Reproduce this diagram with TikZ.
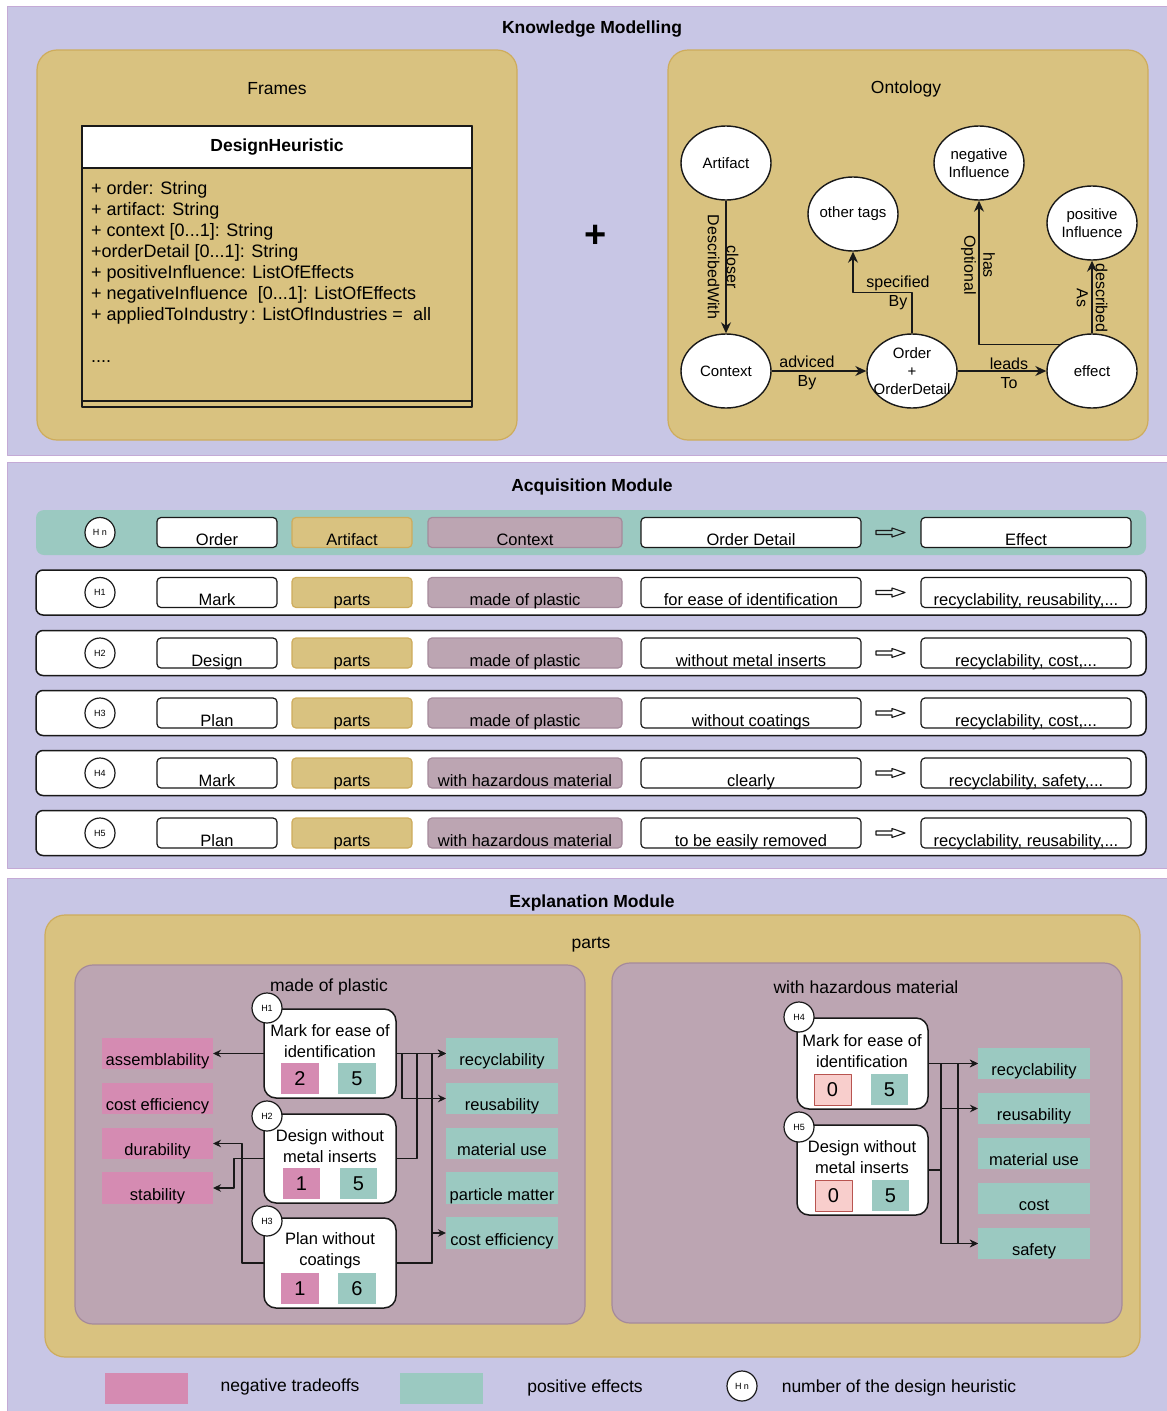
\documentclass[tikz,border=0pt]{standalone}
\usepackage{fontspec}
\setmainfont{Liberation Sans}
\usetikzlibrary{shapes.geometric,arrows.meta,calc}

\definecolor{lav}{RGB}{200,198,229}
\definecolor{lavline}{RGB}{196,170,214}
\definecolor{gold}{RGB}{217,194,128}
\definecolor{goldline}{RGB}{206,172,92}
\definecolor{mauve}{RGB}{188,165,178}
\definecolor{mauveline}{RGB}{165,138,155}
\definecolor{negc}{RGB}{213,139,178}
\definecolor{posc}{RGB}{155,201,193}
\definecolor{zeroc}{RGB}{248,206,204}
\definecolor{zeroline}{RGB}{184,84,80}
\definecolor{ink}{RGB}{25,25,25}

\newcommand\pxfont[2]{\fontsize{#1}{#2}\selectfont}

% rectangle node given by its corners: [style]{name}{x1}{y1}{x2}{y2}{text}
\newcommand\rectnode[7][]{%
  \pgfmathsetmacro\rcx{((#3)+(#5))/2}%
  \pgfmathsetmacro\rcy{((#4)+(#6))/2}%
  \pgfmathsetmacro\rcw{(#5)-(#3)}%
  \pgfmathsetmacro\rch{(#6)-(#4)}%
  \node[inner sep=0pt, outer sep=0pt, minimum width=\rcw pt, minimum height=\rch pt, #1] (#2) at (\rcx,\rcy) {#7};}

% one row of the acquisition table
\newcommand\acqrow[9]{%
  \rectnode[#9]{#1row}{36}{#2-22.5}{1146}{#2+22.5}{}
  \node[badge] (#1b) at (100,#2) {#3};
  \rectnode[cell]{#1o}{157}{#2-15}{277}{#2+15}{#4}
  \rectnode[artcell]{#1a}{292}{#2-15}{412}{#2+15}{#5}
  \rectnode[ctxcell]{#1c}{428}{#2-15}{622}{#2+15}{#6}
  \rectnode[cell]{#1d}{641}{#2-15}{861}{#2+15}{#7}
  \draw[line width=1.1pt, draw=ink] ($(#1d.east)+(15,-2)$) -- ++(16,0) -- ++(0,-2.5)
     -- ++(13,4.5) -- ++(-13,4.5) -- ++(0,-2.5) -- ++(-16,0) -- cycle;
  \rectnode[cell]{#1e}{921}{#2-15}{1131}{#2+15}{#8}
}

\begin{document}
\begin{tikzpicture}[x=1pt,y=-1pt,line join=round,
  panel/.style={draw=lavline, fill=lav, line width=1pt},
  goldbox/.style={draw=goldline, fill=gold, line width=1.2pt, rounded corners=20pt},
  mauvebox/.style={draw=mauveline, fill=mauve, line width=1.2pt, rounded corners=18pt},
  ptitle/.style={font={\pxfont{17.5}{21}\bfseries}, inner sep=0pt},
  ctitle/.style={font={\pxfont{17.5}{21}}, inner sep=0pt},
  ell/.style={ellipse, draw=ink, fill=white, line width=1.4pt, minimum width=90pt,
     minimum height=74pt, inner sep=0pt,
     label={[font={\pxfont{15}{18}}, align=center]center:#1}},
  lbl/.style={font={\pxfont{16}{19}}, align=center, inner sep=0pt},
  arr/.style={draw=ink, line width=1.4pt, -{Stealth[length=11pt,width=10pt]}},
  sarr/.style={draw=ink, line width=1.3pt, -{Stealth[length=8pt,width=7.5pt]}},
  badge/.style={circle, draw=ink, fill=white, line width=1.2pt, minimum size=30pt,
     inner sep=0pt, font={\pxfont{9}{10}}},
  rowbox/.style={draw=ink, fill=white, line width=1.5pt, rounded corners=7pt},
  hdrrow/.style={fill=posc, rounded corners=8pt},
  lowtxt/.style={font={\pxfont{16.5}{19}}, text height=26pt, text depth=0pt},
  cell/.style={draw=ink, fill=white, line width=1.2pt, rounded corners=4pt, lowtxt},
  artcell/.style={draw=goldline, fill=gold, line width=1.2pt, rounded corners=4pt, lowtxt},
  ctxcell/.style={draw=mauveline, fill=mauve, line width=1.2pt, rounded corners=4pt, lowtxt},
  negbox/.style={fill=negc, font={\pxfont{16.5}{19}}, text height=24pt, text depth=0pt},
  posbox/.style={fill=posc, font={\pxfont{16.5}{19}}, text height=24pt, text depth=0pt},
  hbox/.style={draw=ink, fill=white, line width=1.5pt, rounded corners=12pt},
  htxt/.style={font={\pxfont{16.5}{21}}, align=center, inner sep=0pt},
  numn/.style={fill=negc, font={\pxfont{20}{20}}},
  nump/.style={fill=posc, font={\pxfont{20}{20}}},
  numz/.style={fill=zeroc, draw=zeroline, line width=1pt, font={\pxfont{20}{20}}},
  attr/.style={font={\pxfont{18}{21}}, inner sep=0pt, anchor=base west},
  legt/.style={font={\pxfont{17.5}{21}}, inner sep=0pt}
]
\useasboundingbox (0,0) rectangle (1167,1411);
\fill[white] (0,0) rectangle (1167,1411);

% ---------------- Knowledge Modelling ----------------
\rectnode[panel]{kmpanel}{7}{6}{1168}{455}{}
\node[ptitle] (kmtitle) at (592,29) {Knowledge Modelling};

\rectnode[goldbox]{frames}{37}{50}{517}{440}{}
\node[ctitle] (framest) at (277,89) {Frames};
\rectnode[goldbox]{onto}{668}{50}{1148}{440}{}
\node[ctitle] (ontot) at (906,89) {Ontology};
\node[font={\pxfont{38}{38}\bfseries}, inner sep=0pt] (plus) at (596,236) {+};

% class box
\rectnode[draw=ink, fill=gold, line width=1.5pt]{cls}{82}{126}{472}{407}{}
\rectnode[draw=ink, fill=white, line width=1.5pt, font={\pxfont{17.5}{21}\bfseries}]{clsh}{82}{126}{472}{168}{DesignHeuristic}
\draw[draw=ink, line width=1.5pt] ([yshift=6pt]cls.south west) -- ([yshift=6pt]cls.south east);
\node[attr] (at0) at (91,194) {+ order: String};
\node[attr] (at1) at (91,215) {+ artifact: String};
\node[attr] (at2) at (91,236) {+ context [0...1]: String};
\node[attr] (at3) at (91,257) {+orderDetail [0...1]: String};
\node[attr] (at4) at (91,278) {+ positiveInfluence: ListOfEffects};
\node[attr] (at5) at (91,299) {+ negativeInfluence\ \ [0...1]: ListOfEffects};
\node[attr] (at6) at (91,320) {+ appliedToIndustry\,: ListOfIndustries =\ \ all};
\node[attr] (at7) at (91,362) {....};

% ontology graph
\node[ell={Artifact}] (art) at (726,163) {};
\node[ell={Context}] (ctx) at (726,371) {};
\node[ell={other tags}] (oth) at (853,214) {};
\node[ell={negative\\Influence}] (neg) at (979,163) {};
\node[ell={positive\\Influence}] (pos) at (1092,223) {};
\node[ell={Order\\+\\OrderDetail}] (ord) at (912,371) {};
\node[ell={effect}] (eff) at (1092,371) {};

\draw[arr] (art) -- (ctx);
\node[lbl, rotate=-90] (lcl) at (723,267) {closer\\DescribedWith};
\draw[arr] (ctx) -- (ord);
\node[lbl] (lad) at (807,373) {adviced\\By};
\draw[arr] (ord.north) -- ++(0,-41) -| (oth.south);
\node[lbl] (lsp) at (898,293) {specified\\By};
\draw[arr] (ord) -- (eff);
\node[lbl] (lle) at (1009,373) {leads\\To};
\draw[arr] (eff.north west) -| (neg.south);
\node[lbl, rotate=-90] (lha) at (978,265) {has\\Optional};
\draw[arr] (eff.north) -- (pos.south);
\node[lbl, rotate=-90] (lde) at (1092,298) {described\\As};

% ---------------- Acquisition Module ----------------
\rectnode[panel]{acpanel}{7}{462}{1168}{868}{}
\node[ptitle] (actitle) at (592,487) {Acquisition Module};

\acqrow{hd}{532.5}{H n}{Order}{Artifact}{Context}{Order Detail}{Effect}{hdrrow}
\acqrow{ra}{592.5}{H1}{Mark}{parts}{made of plastic}{for ease of identification}{recyclability, reusability,...}{rowbox}
\acqrow{rb}{653}{H2}{Design}{parts}{made of plastic}{without metal inserts}{recyclability, cost,...}{rowbox}
\acqrow{rc}{713}{H3}{Plan}{parts}{made of plastic}{without coatings}{recyclability, cost,...}{rowbox}
\acqrow{rd}{773}{H4}{Mark}{parts}{with hazardous material}{clearly}{recyclability, safety,...}{rowbox}
\acqrow{re}{833}{H5}{Plan}{parts}{with hazardous material}{to be easily removed}{recyclability, reusability,...}{rowbox}

% ---------------- Explanation Module ----------------
\rectnode[panel]{expanel}{7}{878}{1168}{1413}{}
\node[ptitle] (extitle) at (592,903) {Explanation Module};

\rectnode[goldbox]{parts}{45}{915}{1140}{1357}{}
\node[ctitle] (partst) at (591,945) {parts};
\rectnode[mauvebox]{mp}{75}{965}{585}{1324}{}
\node[ctitle] (mpt) at (329,987) {made of plastic};
\rectnode[mauvebox]{hm}{612}{963}{1122}{1323}{}
\node[ctitle] (hmt) at (866,987) {with hazardous material};

% left group: negative tradeoffs
\rectnode[negbox]{assem}{102}{1038}{213}{1069}{assemblability}
\rectnode[negbox]{costn}{102}{1083}{213}{1114}{cost efficiency}
\rectnode[negbox]{dur}{102}{1128}{213}{1159}{durability}
\rectnode[negbox]{stab}{102}{1172}{213}{1204}{stability}
% left group: positive effects
\rectnode[posbox]{recyc}{446}{1038}{558}{1069}{recyclability}
\rectnode[posbox]{reus}{446}{1083}{558}{1114}{reusability}
\rectnode[posbox]{matu}{446}{1128}{558}{1159}{material use}
\rectnode[posbox]{partm}{446}{1172}{558}{1204}{particle matter}
\rectnode[posbox]{costp}{446}{1217}{558}{1249}{cost efficiency}

% left group: heuristics
\rectnode[hbox]{h1}{264}{1009}{396}{1098}{}
\node[htxt] (h1t) at (330,1041) {Mark for ease of\\identification};
\rectnode[numn]{h1n}{281}{1063}{319}{1094}{2}
\rectnode[nump]{h1p}{338}{1063}{376}{1094}{5}
\node[badge] (b1) at (267,1008) {H1};

\rectnode[hbox]{h2}{264}{1114}{396}{1203}{}
\node[htxt] (h2t) at (330,1146) {Design without\\metal inserts};
\rectnode[numn]{h2n}{283}{1168}{320}{1199}{1}
\rectnode[nump]{h2p}{340}{1168}{377}{1199}{5}
\node[badge] (b2) at (267,1116) {H2};

\rectnode[hbox]{h3}{264}{1218}{396}{1308}{}
\node[htxt] (h3t) at (330,1251) {Plan without\\coatings};
\rectnode[numn]{h3n}{281}{1273}{319}{1304}{1}
\rectnode[nump]{h3p}{338}{1273}{376}{1304}{6}
\node[badge] (b3) at (267,1221) {H3};

% left group: connectors
\draw[sarr] (h1.west) -- (assem.east);
\draw[sarr] (h1.east) -- (recyc.west);
\draw[sarr] (h1.east) -- ++(6,0) |- (reus.west);
\draw[sarr] (h2.east) -- ++(21,0) |- (recyc.west);
\draw[sarr] (h3.east) -- ++(36,0) |- (recyc.west);
\draw[sarr] (h3.east) -- ++(36,0) |- (costp.west);
\draw[sarr] (h2.west) -- ++(-30,0) |- (stab.east);
\draw[sarr] (h3.west) -- ++(-22,0) |- (dur.east);

% right group: positive effects
\rectnode[posbox]{recyc2}{978}{1048}{1090}{1079}{recyclability}
\rectnode[posbox]{reus2}{978}{1093}{1090}{1124}{reusability}
\rectnode[posbox]{matu2}{978}{1138}{1090}{1169}{material use}
\rectnode[posbox]{cost2}{978}{1183}{1090}{1214}{cost}
\rectnode[posbox]{safe2}{978}{1228}{1090}{1259}{safety}

% right group: heuristics
\rectnode[hbox]{h4}{797}{1018}{928}{1109}{}
\node[htxt] (h4t) at (862,1051) {Mark for ease of\\identification};
\rectnode[numz]{h4n}{814}{1074}{851}{1105}{0}
\rectnode[nump]{h4p}{871}{1074}{908}{1105}{5}
\node[badge] (b4) at (799,1017) {H4};

\rectnode[hbox]{h5}{797}{1125}{928}{1215}{}
\node[htxt] (h5t) at (862,1157) {Design without\\metal inserts};
\rectnode[numz]{h5n}{815}{1180}{852}{1211}{0}
\rectnode[nump]{h5p}{872}{1180}{909}{1211}{5}
\node[badge] (b5) at (799,1127) {H5};

% right group: connectors
\draw[sarr] (h4.east) -- (recyc2.west);
\draw[sarr] (h4.east) -- ++(13,0) |- (reus2.west);
\draw[sarr] (h4.east) -- ++(13,0) |- (safe2.west);
\draw[sarr] (h4.east) -- ++(30,0) |- (safe2.west);
\draw[sarr] (h5.east) -- ++(13,0) |- (recyc2.west);

% legend
\rectnode[negbox]{lgneg}{105}{1373}{188}{1404}{}
\node[legt] (lgnegt) at (290,1387) {negative tradeoffs};
\rectnode[posbox]{lgpos}{400}{1373}{483}{1404}{}
\node[legt] (lgpost) at (585,1388) {positive effects};
\node[badge] (lgb) at (742,1386) {H n};
\node[legt] (lgbt) at (899,1388) {number of the design heuristic};
\end{tikzpicture}
\end{document}
